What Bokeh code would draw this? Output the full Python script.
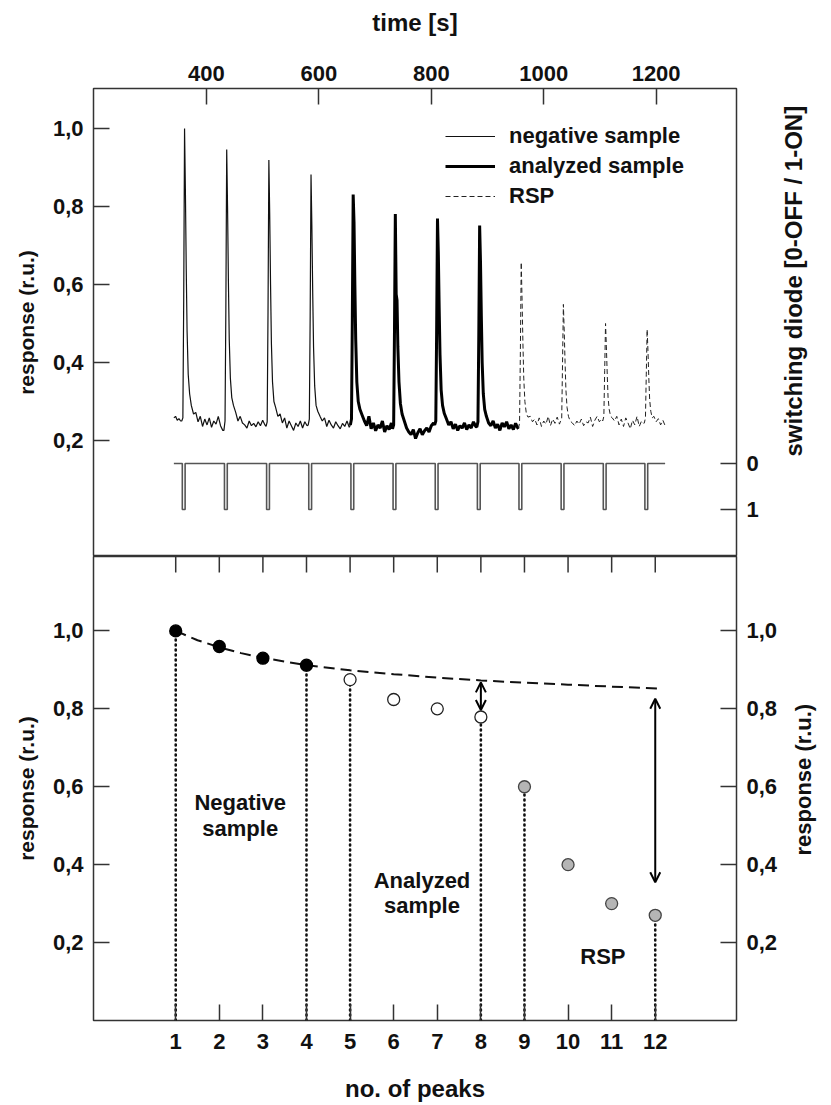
import math
from bokeh.plotting import figure
from bokeh.models import (Range1d, LinearAxis, FixedTicker, Arrow, OpenHead,
                          Legend, LegendItem, CustomJSTickFormatter)
from bokeh.layouts import column
from bokeh.embed import file_html
from bokeh.resources import INLINE
from bokeh.core.properties import value

# ---------------- data: top panel (time trace) ----------------
PEAK_TIMES = [361, 436, 511, 586, 661, 736, 811, 886, 960, 1035, 1110, 1184]
CYCLE_OFFSETS = [-5, -3, -1.5, 0, 1.5, 3, 4.5, 6.5, 9, 12, 16, 20, 24, 28,
                 32, 36, 40, 44, 48, 52, 56, 60, 64, 68]
LEAD_T = [342, 345, 348, 351, 354]
LEAD_R = [0.258, 0.262, 0.252, 0.256, 0.250]

NEGATIVE_CYCLES = [
    [0.250, 0.258, 0.560, 1.000, 0.840, 0.640, 0.480, 0.370, 0.320, 0.290, 0.268, 0.272,
     0.248, 0.262, 0.236, 0.255, 0.240, 0.258, 0.234, 0.250, 0.242, 0.262, 0.238, 0.226],
    [0.226, 0.250, 0.540, 0.946, 0.800, 0.610, 0.460, 0.360, 0.310, 0.290, 0.272, 0.250,
     0.262, 0.245, 0.240, 0.232, 0.250, 0.238, 0.244, 0.235, 0.248, 0.238, 0.252, 0.240],
    [0.236, 0.248, 0.530, 0.919, 0.780, 0.600, 0.450, 0.350, 0.300, 0.285, 0.262, 0.268,
     0.245, 0.258, 0.232, 0.250, 0.238, 0.226, 0.245, 0.236, 0.250, 0.232, 0.248, 0.238],
    [0.240, 0.255, 0.520, 0.882, 0.750, 0.580, 0.440, 0.340, 0.290, 0.275, 0.262, 0.250,
     0.258, 0.236, 0.252, 0.240, 0.232, 0.248, 0.238, 0.230, 0.244, 0.236, 0.250, 0.234],
]
ANALYZED_CYCLES = [
    [0.240, 0.255, 0.510, 0.831, 0.760, 0.600, 0.460, 0.350, 0.300, 0.280, 0.265, 0.250,
     0.238, 0.262, 0.230, 0.245, 0.225, 0.240, 0.232, 0.250, 0.222, 0.238, 0.228, 0.245],
    [0.230, 0.240, 0.480, 0.781, 0.575, 0.560, 0.440, 0.350, 0.295, 0.268, 0.250, 0.232,
     0.222, 0.215, 0.228, 0.205, 0.220, 0.230, 0.215, 0.225, 0.232, 0.222, 0.238, 0.245],
    [0.240, 0.250, 0.480, 0.769, 0.680, 0.540, 0.420, 0.330, 0.290, 0.270, 0.255, 0.240,
     0.248, 0.230, 0.242, 0.226, 0.238, 0.232, 0.245, 0.228, 0.240, 0.232, 0.248, 0.236],
    [0.235, 0.248, 0.470, 0.751, 0.660, 0.520, 0.400, 0.320, 0.280, 0.262, 0.245, 0.238,
     0.250, 0.232, 0.242, 0.226, 0.245, 0.235, 0.248, 0.230, 0.240, 0.228, 0.244, 0.232],
]
RSP_CYCLES = [
    [0.230, 0.245, 0.430, 0.657, 0.560, 0.450, 0.360, 0.300, 0.270, 0.260, 0.262, 0.248,
     0.255, 0.240, 0.258, 0.236, 0.250, 0.242, 0.262, 0.238, 0.255, 0.244, 0.260, 0.242],
    [0.250, 0.255, 0.400, 0.549, 0.480, 0.400, 0.330, 0.285, 0.262, 0.250, 0.245, 0.238,
     0.250, 0.242, 0.255, 0.238, 0.248, 0.245, 0.260, 0.236, 0.252, 0.262, 0.248, 0.255],
    [0.250, 0.262, 0.380, 0.500, 0.440, 0.370, 0.310, 0.280, 0.262, 0.258, 0.250, 0.262,
     0.240, 0.255, 0.236, 0.258, 0.245, 0.230, 0.252, 0.240, 0.262, 0.236, 0.250, 0.244],
    [0.245, 0.258, 0.370, 0.485, 0.430, 0.360, 0.305, 0.275, 0.258, 0.262, 0.248, 0.256,
     0.240, 0.252, 0.238],
]

DIODE_ON_T = [357, 432, 507, 582, 657, 732, 807, 882, 956, 1031, 1106, 1180]
DIODE_OFF_T = [362, 437, 512, 587, 662, 737, 812, 887, 961, 1036, 1111, 1185]
DIODE_START_T = 342
DIODE_END_T = 1216

TIME_TICKS = [400, 600, 800, 1000, 1200]
RESP_TICKS = [0.2, 0.4, 0.6, 0.8, 1.0]
DIODE_TICKS = [0, 1]

# ---------------- data: bottom panel (peak maxima) ----------------
PEAK_NO = [1, 2, 3, 4, 5, 6, 7, 8, 9, 10, 11, 12]
PEAK_RESPONSE = [1.0, 0.96, 0.93, 0.912, 0.875, 0.824, 0.80, 0.779, 0.60, 0.40, 0.30, 0.27]
PEAK_GROUP = ["neg"] * 4 + ["ana"] * 4 + ["rsp"] * 4
FIT_X = [1, 1.5, 2, 2.5, 3, 4, 5, 6, 7, 8, 9, 10, 11, 12.05]
FIT_Y = [1.0, 0.976, 0.958, 0.943, 0.931, 0.912, 0.899, 0.889, 0.880, 0.873,
         0.867, 0.862, 0.857, 0.852]
DROP_PEAKS = [1, 4, 5, 8, 9, 12]
ARROW_8 = (8, 0.797, 0.868)
ARROW_12 = (12, 0.355, 0.826)
REGION_TEXT = ["Negative", "sample", "Analyzed", "sample", "RSP"]
REGION_X = [2.48, 2.48, 6.65, 6.65, 10.8]
REGION_Y = [0.559, 0.494, 0.360, 0.294, 0.165]

# ranges
T_RANGE = (199, 1343)
R1_RANGE = (-0.0974, 1.1026)
DIODE_RANGE = (2.022, -8.152)
N_RANGE = (-0.886, 13.864)
R2_RANGE = (0.0, 1.191)


def build(cycles, indices, include_next=None):
    ts, rs = [], []
    for c, k in zip(cycles, indices):
        for off, r in zip(CYCLE_OFFSETS, c):
            ts.append(PEAK_TIMES[k] + off)
            rs.append(r)
    if include_next is not None:
        nc, nk = include_next
        ts.append(PEAK_TIMES[nk] + CYCLE_OFFSETS[0])
        rs.append(nc[0])
    return ts, rs


neg_t, neg_r = build(NEGATIVE_CYCLES, [0, 1, 2, 3], (ANALYZED_CYCLES[0], 4))
neg_t = LEAD_T + neg_t
neg_r = LEAD_R + neg_r
ana_t, ana_r = build(ANALYZED_CYCLES, [4, 5, 6, 7], (RSP_CYCLES[0], 8))
rsp_t, rsp_r = build(RSP_CYCLES, [8, 9, 10, 11])

dio_x = [DIODE_START_T]
dio_y = [0]
for on, off in zip(DIODE_ON_T, DIODE_OFF_T):
    dio_x += [on, on, off, off]
    dio_y += [0, 1, 1, 0]
dio_x.append(DIODE_END_T)
dio_y.append(0)

FONT = "Liberation Sans"
EDGE = "#333333"
TXT = "#111111"
NBSP = "\u00a0"
comma_fmt = CustomJSTickFormatter(code="return tick.toFixed(1).replace('.', ',');")
AXIS_PROPS = LinearAxis.properties()
HAS_ORIENT = "axis_label_orientation" in AXIS_PROPS and "axis_label_align" in AXIS_PROPS


def style_axis(ax, label_size="21px"):
    ax.axis_line_color = None
    ax.major_tick_in = 16
    ax.major_tick_out = 0
    ax.minor_tick_line_color = None
    ax.major_tick_line_color = EDGE
    ax.major_label_text_font = FONT
    ax.major_tick_line_width = 1.5
    ax.major_label_text_font_style = "bold"
    ax.major_label_text_font_size = "22px"
    ax.major_label_text_color = TXT
    ax.axis_label_text_font = FONT
    ax.axis_label_text_font_style = "bold"
    ax.axis_label_text_font_size = label_size
    ax.axis_label_text_color = TXT


def right_title(ax, text, lift, align):
    # right-hand titles read bottom-to-top, as in the reference; the text is
    # anchored at the bottom of the frame and lifted by leading spaces
    if HAS_ORIENT:
        ax.axis_label_orientation = math.pi / 2
        ax.axis_label_align = align
        ax.axis_label = NBSP * lift + text
    else:
        ax.axis_label = text


# ---------------- top figure ----------------
p1 = figure(width=831, height=556, x_range=Range1d(*T_RANGE),
            y_range=Range1d(*R1_RANGE), output_backend="svg",
            toolbar_location=None, x_axis_location="above",
            min_border_left=93, min_border_right=89, min_border_top=88,
            min_border_bottom=0)
p1.grid.visible = False
p1.outline_line_color = EDGE
p1.outline_line_width = 1.5
p1.background_fill_color = "white"
p1.border_fill_color = "white"

p1.xaxis.ticker = FixedTicker(ticks=TIME_TICKS)
p1.xaxis.axis_label = "time [s]"
p1.xaxis.major_label_standoff = 8
p1.xaxis.axis_label_standoff = 27
p1.yaxis.ticker = FixedTicker(ticks=RESP_TICKS)
p1.yaxis.formatter = comma_fmt
p1.yaxis.axis_label = "response (r.u.)"
p1.yaxis.major_label_standoff = 10
p1.yaxis.axis_label_standoff = 12
for ax in p1.xaxis:
    style_axis(ax, "24px")
for ax in p1.yaxis:
    style_axis(ax, "21px")

p1.extra_y_ranges = {"diode": Range1d(*DIODE_RANGE)}
dax = LinearAxis(y_range_name="diode", ticker=FixedTicker(ticks=DIODE_TICKS))
style_axis(dax, "24px")
dax.major_label_standoff = 10
dax.axis_label_standoff = 32
right_title(dax, "switching diode [0-OFF / 1-ON]", 15, "end")
p1.add_layout(dax, "right")

r_neg = p1.line(neg_t, neg_r, line_color="#111111", line_width=1.2)
r_ana = p1.line(ana_t, ana_r, line_color="#000000", line_width=3)
r_rsp = p1.line(rsp_t, rsp_r, line_color="#222222", line_width=1, line_dash="5 3")
p1.line(dio_x, dio_y, y_range_name="diode", line_color="#555555", line_width=1.6)

legend = Legend(items=[LegendItem(label="negative sample", renderers=[r_neg]),
                       LegendItem(label="analyzed sample", renderers=[r_ana]),
                       LegendItem(label="RSP", renderers=[r_rsp])],
                location=(352, 347), padding=0, margin=0, spacing=4,
                label_height=24, glyph_height=24, glyph_width=50, label_standoff=14,
                border_line_color=None, background_fill_alpha=0,
                label_text_font=FONT, label_text_font_style="bold",
                label_text_font_size="22px", label_text_color=TXT)
p1.add_layout(legend, "center")

# ---------------- bottom figure ----------------
p2 = figure(width=831, height=548, x_range=Range1d(*N_RANGE),
            y_range=Range1d(*R2_RANGE), output_backend="svg",
            toolbar_location=None,
            min_border_left=93, min_border_right=89, min_border_top=0,
            min_border_bottom=80)
p2.grid.visible = False
p2.outline_line_color = EDGE
p2.outline_line_width = 1.5
p2.background_fill_color = "white"
p2.border_fill_color = "white"

p2.xaxis.ticker = FixedTicker(ticks=PEAK_NO)
p2.xaxis.axis_label = "no. of peaks"
p2.xaxis.major_label_standoff = 13
p2.xaxis.axis_label_standoff = 23
p2.yaxis.ticker = FixedTicker(ticks=RESP_TICKS)
p2.yaxis.formatter = comma_fmt
p2.yaxis.axis_label = "response (r.u.)"
p2.yaxis.major_label_standoff = 10
p2.yaxis.axis_label_standoff = 12
for ax in p2.xaxis:
    style_axis(ax, "24px")
for ax in p2.yaxis:
    style_axis(ax, "21px")

rax = LinearAxis(ticker=FixedTicker(ticks=RESP_TICKS), formatter=comma_fmt)
style_axis(rax, "22px")
rax.major_label_standoff = 10
rax.axis_label_standoff = 23
right_title(rax, "response (r.u.)", 27, "start")
p2.add_layout(rax, "right")

# inward tick marks along the top edge (frame clips the outer half)
p2.scatter(PEAK_NO, [R2_RANGE[1]] * len(PEAK_NO), marker="dash", angle=math.pi / 2,
           size=32, line_color=EDGE, line_width=1.5)

drop_y = [PEAK_RESPONSE[PEAK_NO.index(k)] for k in DROP_PEAKS]
p2.segment(x0=DROP_PEAKS, y0=[0] * len(DROP_PEAKS), x1=DROP_PEAKS, y1=drop_y,
           line_color="#111111", line_width=2.6, line_dash="1 4", line_cap="round")
p2.line(FIT_X, FIT_Y, line_color="#111111", line_width=2, line_dash="11 6")

fills = {"neg": "#000000", "ana": "#ffffff", "rsp": "#b5b5b5"}
lines = {"neg": "#000000", "ana": "#222222", "rsp": "#444444"}
p2.scatter(PEAK_NO, PEAK_RESPONSE, size=12,
           fill_color=[fills[g] for g in PEAK_GROUP],
           line_color=[lines[g] for g in PEAK_GROUP], line_width=1.3)

for (ax_x, y0, y1) in (ARROW_8, ARROW_12):
    p2.add_layout(Arrow(start=OpenHead(size=10, line_width=2, line_color="black"),
                        end=OpenHead(size=10, line_width=2, line_color="black"),
                        x_start=ax_x, y_start=y0, x_end=ax_x, y_end=y1,
                        line_width=2, line_color="black"))

p2.text(REGION_X, REGION_Y, text=REGION_TEXT, text_align="center",
        text_baseline="middle", text_font=value(FONT), text_font_style="bold",
        text_font_size="22px", text_color=TXT)

layout = column(p1, p2, spacing=0)
open("out.html", "w").write(file_html(layout, INLINE))
